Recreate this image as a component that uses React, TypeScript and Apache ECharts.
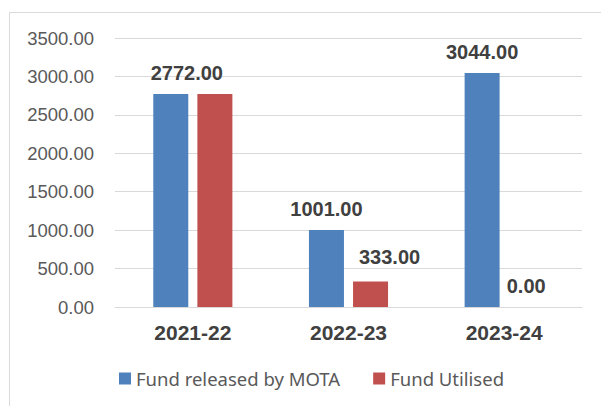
import React, { useEffect, useRef } from "react";
import * as echarts from "echarts";

const categories = ["2021-22", "2022-23", "2023-24"];
const released = [2772, 1001, 3044];
const utilised = [2772, 333, 0];
const seriesNames = ["Fund released by MOTA", "Fund Utilised"];
const yTicks = { min: 0, max: 3500, interval: 500 };

export default function App() {
  const ref = useRef<HTMLDivElement>(null);
  useEffect(() => {
    if (!ref.current) return;
    const chart = echarts.init(ref.current, null, { renderer: "svg" });
    const labelBase = {
      show: true,
      position: "top",
      distance: 11,
      fontFamily: "Liberation Sans, Arial, sans-serif",
      fontWeight: "bold",
      fontSize: 20,
      color: "#404040",
      formatter: (p: any) => Number(p.value).toFixed(2),
    };
    const releasedData = released.map((v, i) =>
      i === 0 ? { value: v, label: { offset: [16, 0] } } : { value: v }
    );
    const utilisedData = utilised.map((v, i) =>
      i === 0
        ? { value: v, label: { show: false } }
        : i === 1
        ? { value: v, label: { offset: [19, -3] } }
        : { value: v }
    );
    chart.setOption({
      animation: false,
      backgroundColor: "#ffffff",
      graphic: [
        { type: "line", shape: { x1: 9.5, y1: 12.5, x2: 601, y2: 12.5 }, style: { stroke: "#d9d9d9", lineWidth: 1 } },
        { type: "line", shape: { x1: 9.5, y1: 12.5, x2: 9.5, y2: 406 }, style: { stroke: "#d9d9d9", lineWidth: 1 } },
      ],
      grid: { left: 115, right: 19, top: 38, bottom: 99, containLabel: false },
      legend: {
        data: seriesNames,
        bottom: 13,
        left: 114,
        itemWidth: 12,
        itemHeight: 12,
        itemGap: 33,
        icon: "rect",
        textStyle: { fontFamily: "Noto Sans, Open Sans, sans-serif", fontSize: 18.5, color: "#595959" },
      },
      xAxis: {
        type: "category",
        data: categories,
        axisTick: { show: false },
        axisLine: { show: true, lineStyle: { color: "#d9d9d9", width: 1 } },
        axisLabel: {
          margin: 15,
          fontFamily: "Liberation Sans, Arial, sans-serif",
          fontWeight: "bold",
          fontSize: 21,
          color: "#404040",
        },
      },
      yAxis: {
        type: "value",
        min: yTicks.min,
        max: yTicks.max,
        interval: yTicks.interval,
        axisLine: { show: false },
        axisTick: { show: false },
        splitLine: { lineStyle: { color: "#d9d9d9", width: 1 } },
        axisLabel: {
          margin: 21,
          fontFamily: "Liberation Sans, Arial, sans-serif",
          fontSize: 18.5,
          color: "#595959",
          formatter: (v: number) => v.toFixed(2),
        },
      },
      series: [
        {
          name: seriesNames[0],
          type: "bar",
          data: releasedData,
          barWidth: 35,
          barGap: "26%",
          itemStyle: { color: "#4F81BD" },
          label: labelBase,
        },
        {
          name: seriesNames[1],
          type: "bar",
          data: utilisedData,
          barWidth: 35,
          barGap: "26%",
          itemStyle: { color: "#C0504D" },
          label: labelBase,
        },
      ],
    });
    return () => chart.dispose();
  }, []);
  return (
    <div
      ref={ref}
      style={{ position: "absolute", left: 0, top: 0, width: 601, height: 406 }}
    />
  );
}
